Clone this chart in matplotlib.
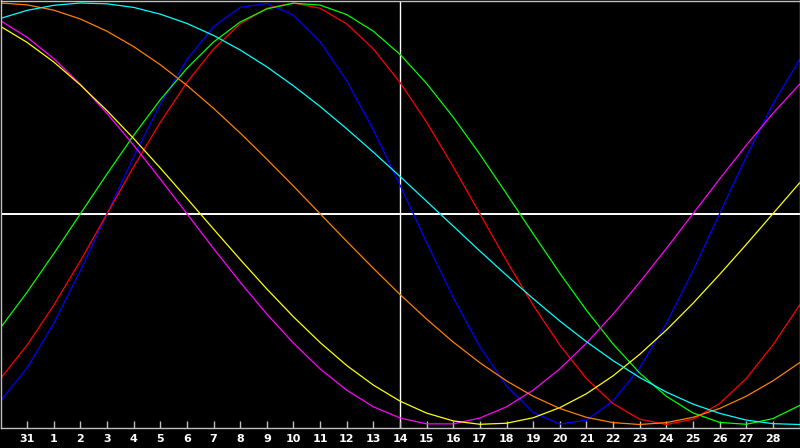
import matplotlib
matplotlib.use("Agg")
import matplotlib.pyplot as plt

# day positions along the chart and their labels
days = list(range(31))
tick_pos = list(range(1, 30))
tick_labels = ['31', '1', '2', '3', '4', '5', '6', '7', '8', '9', '10', '11', '12', '13',
               '14', '15', '16', '17', '18', '19', '20', '21', '22', '23', '24', '25',
               '26', '27', '28']

# cycle values, one per day
physical = [-0.888, -0.731, -0.520, -0.270, 0.0, 0.270, 0.520, 0.731, 0.888, 0.979, 0.998,
            0.942, 0.817, 0.631, 0.398, 0.136, -0.136, -0.398, -0.631, -0.817, -0.942,
            -0.998, -0.979, -0.888, -0.731, -0.520, -0.270, 0.0, 0.270, 0.520, 0.731]
emotional = [-0.782, -0.623, -0.434, -0.223, 0.0, 0.223, 0.434, 0.623, 0.782, 0.901, 0.975,
             1.0, 0.975, 0.901, 0.782, 0.623, 0.434, 0.223, 0.0, -0.223, -0.434, -0.623,
             -0.782, -0.901, -0.975, -1.0, -0.975, -0.901, -0.782, -0.623, -0.434]
intellectual = [-0.541, -0.372, -0.189, 0.0, 0.189, 0.372, 0.541, 0.690, 0.815, 0.910, 0.972,
                0.999, 0.990, 0.945, 0.866, 0.756, 0.618, 0.458, 0.282, 0.095, -0.095,
                -0.282, -0.458, -0.618, -0.756, -0.866, -0.945, -0.990, -0.999, -0.972, -0.910]
intuitive = [0.916, 0.837, 0.736, 0.614, 0.476, 0.325, 0.165, 0.0, -0.165, -0.325, -0.476,
             -0.614, -0.736, -0.837, -0.916, -0.969, -0.997, -0.997, -0.969, -0.916, -0.837,
             -0.736, -0.614, -0.476, -0.325, -0.165, 0.0, 0.165, 0.325, 0.476, 0.614]
aesthetic = [0.889, 0.813, 0.720, 0.611, 0.489, 0.357, 0.217, 0.073, -0.073, -0.217, -0.357,
             -0.489, -0.611, -0.720, -0.813, -0.889, -0.946, -0.983, -0.999, -0.994, -0.968,
             -0.920, -0.854, -0.769, -0.667, -0.552, -0.425, -0.288, -0.146, 0.0, 0.146]
awareness = [1.0, 0.991, 0.966, 0.924, 0.866, 0.793, 0.707, 0.609, 0.5, 0.383, 0.259, 0.131,
             0.0, -0.131, -0.259, -0.383, -0.5, -0.609, -0.707, -0.793, -0.866, -0.924,
             -0.966, -0.991, -1.0, -0.991, -0.966, -0.924, -0.866, -0.793, -0.707]
spiritual = [0.927, 0.965, 0.989, 1.0, 0.996, 0.979, 0.947, 0.903, 0.846, 0.777, 0.697, 0.607,
             0.509, 0.403, 0.292, 0.177, 0.059, -0.059, -0.177, -0.292, -0.403, -0.509,
             -0.607, -0.697, -0.777, -0.846, -0.903, -0.947, -0.979, -0.996, -1.0]

W, H = 800, 448
fig = plt.figure(figsize=(W / 100, H / 100), dpi=100, facecolor='black')
ax = fig.add_axes([0.5 / W, (H - 428) / H, 799 / W, 427.5 / H])
ax.set_facecolor('black')

# crosshair at today / zero line
ax.axhline(0, color='white', lw=1.4, zorder=1)
ax.axvline(15, color='white', lw=1.0, zorder=1)

# the seven cycles
for vals, col in [(physical, '#0000ff'), (emotional, '#ff0000'), (intellectual, '#00ff00'),
                  (intuitive, '#ff00ff'), (aesthetic, '#ffff00'), (awareness, '#ff8000'),
                  (spiritual, '#00ffff')]:
    ax.plot(days, vals, color=col, lw=0.9, zorder=2)

ax.set_xlim(0, 30)
ax.set_ylim(-1.0166, 1.0118)
ax.set_xticks(tick_pos)
ax.set_xticklabels(tick_labels, color='white', fontsize=8, fontweight='bold',
                   family='DejaVu Sans')
ax.set_yticks([])
ax.tick_params(axis='x', direction='in', length=5, width=1, color='#c0c0c0', pad=4)
for s in ax.spines.values():
    s.set_color('#c0c0c0')
    s.set_linewidth(1)

fig.savefig('out.png', dpi=100, facecolor='black')
